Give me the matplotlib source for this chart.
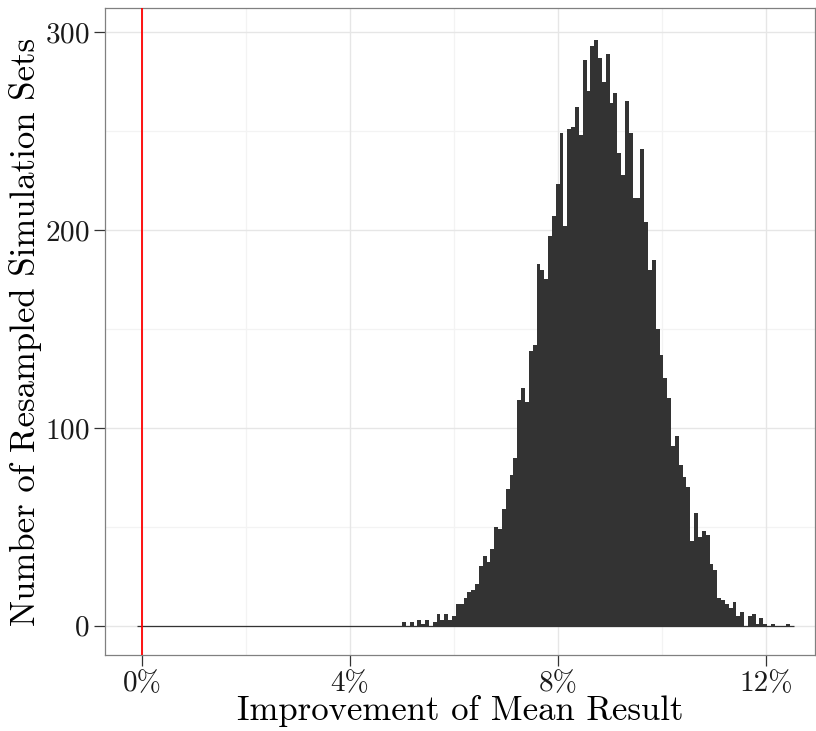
import numpy as np
import matplotlib
matplotlib.use("Agg")
import matplotlib.pyplot as plt

# histogram: bin width in %, first non-empty bin at 5%
bin_width = 0.0739
first_edge = 5.0
n_empty_left = 69  # zero-count bins between ~-0.1% and 5%
counts = [2, 0, 2, 0, 3, 1, 3, 0, 2, 6, 3, 6, 3, 5, 11, 11, 14, 17, 18, 21,
          30, 35, 32, 39, 50, 49, 59, 69, 76, 85, 114, 120, 113, 139, 142, 183, 180, 175, 197, 207,
          223, 249, 202, 251, 252, 262, 248, 286, 270, 293, 296, 287, 275, 289, 264, 269, 239, 228, 265, 249,
          216, 216, 241, 204, 180, 185, 150, 137, 125, 115, 91, 96, 81, 75, 70, 43, 57, 45, 48, 46,
          31, 28, 14, 13, 11, 9, 12, 5, 7, 0, 5, 6, 1, 4, 1, 0, 1, 0, 0, 0, 1, 0]
x_ticks = [0, 4, 8, 12]
x_labels = ["0%", "4%", "8%", "12%"]
y_ticks = [0, 100, 200, 300]
ref_line = 0

plt.rcParams["font.family"] = "cmr10"
plt.rcParams["axes.formatter.use_mathtext"] = True

all_counts = np.array([0] * n_empty_left + counts)
edges = first_edge + bin_width * np.arange(-n_empty_left, len(counts) + 1)

fig = plt.figure(figsize=(8.16, 7.31), dpi=100)
ax = fig.add_axes([105 / 816, 76 / 731, 710 / 816, 647 / 731])

# grid, theme_bw style
for v in [2, 6, 10]:
    ax.axvline(v, color="#f3f3f3", lw=0.9, zorder=0)
for v in [50, 150, 250]:
    ax.axhline(v, color="#f3f3f3", lw=0.9, zorder=0)
for v in x_ticks:
    ax.axvline(v, color="#e6e6e6", lw=1.0, zorder=0)
for v in y_ticks:
    ax.axhline(v, color="#e6e6e6", lw=1.0, zorder=0)

ax.stairs(all_counts, edges, fill=True, color="#333333", lw=0, zorder=2)
ax.hlines(0, edges[0], edges[-1], color="#333333", lw=0.9, zorder=2)
ax.axvline(ref_line, color="red", lw=1.3, zorder=3)

ax.set_xlim(-0.71, 12.94)
ax.set_ylim(-14.8, 312.2)
ax.set_xticks(x_ticks)
ax.set_xticklabels(x_labels)
ax.set_yticks(y_ticks)
ax.tick_params(axis="both", labelsize=21, length=8, width=0.9, color="#333333",
               labelcolor="#1a1a1a", pad=3)
for s in ax.spines.values():
    s.set_color("#808080")
    s.set_linewidth(0.9)

ax.set_xlabel("Improvement of Mean Result", fontsize=25, labelpad=-1)
ax.set_ylabel("Number of Resampled Simulation Sets", fontsize=25, labelpad=2)

fig.savefig("out.png", dpi=100)
